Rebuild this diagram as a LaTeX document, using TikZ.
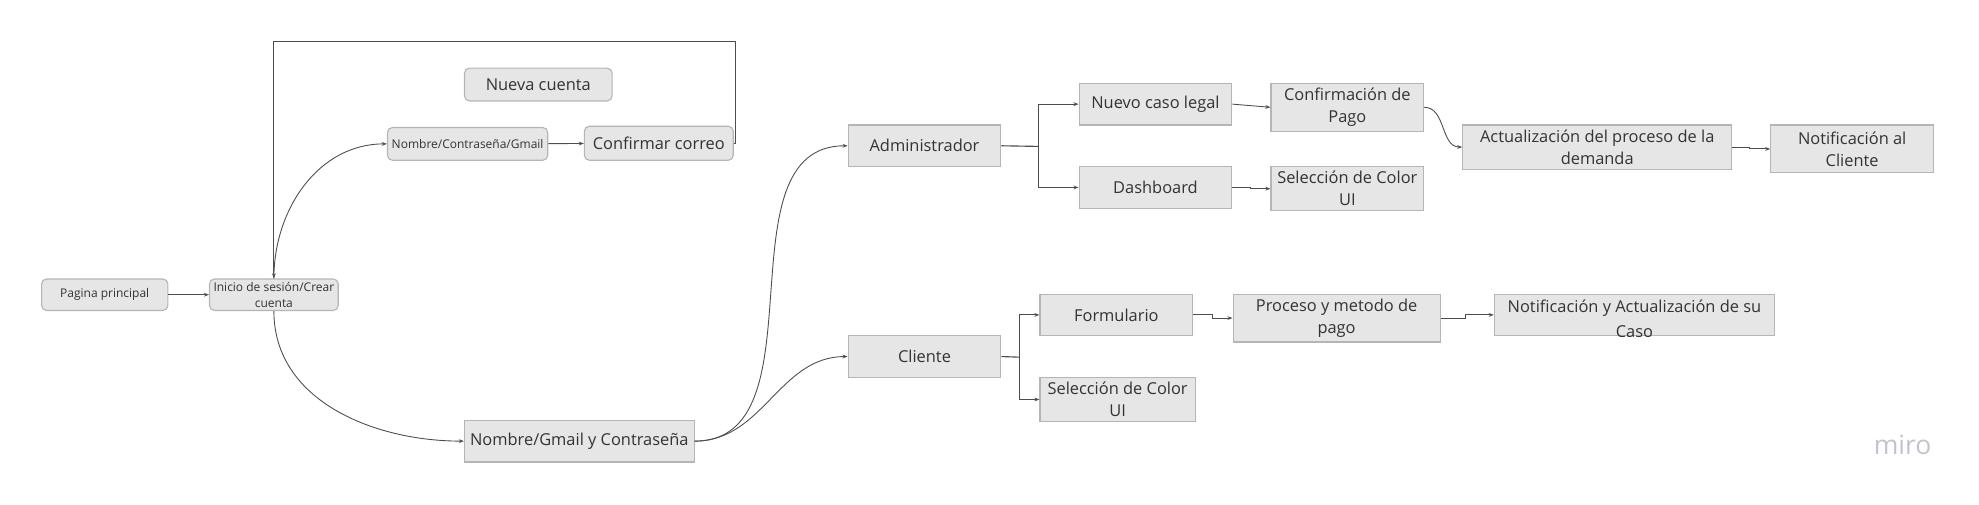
\documentclass[tikz,border=0pt]{standalone}
\usepackage{fontspec}
\setmainfont{Open Sans}
\usetikzlibrary{arrows.meta}
\definecolor{boxfill}{HTML}{E6E6E6}
\definecolor{boxline}{HTML}{B5B5B5}
\definecolor{linkcol}{HTML}{4D4D4D}
\definecolor{textcol}{HTML}{333333}
\definecolor{mirocol}{HTML}{C3C2CF}
\begin{document}
\begin{tikzpicture}[x=1pt,y=-1pt,
  box/.style={draw=boxline, fill=boxfill, line width=0.9pt, inner sep=0pt, align=center,
    text=textcol, font=\fontsize{13}{17.5}\selectfont},
  rbox/.style={box, rounded corners=4pt},
  small/.style={font=\fontsize{9.5}{12.5}\selectfont},
  conn/.style={draw=linkcol, line width=0.7pt, -{Stealth[length=4pt,width=3pt]}},
  plain/.style={draw=linkcol, line width=0.9pt}]
  \useasboundingbox (0,0) rectangle (1568,400);

  \node[rbox, small, minimum width=100, minimum height=25] (pag) at (83,233.5) {Pagina principal};
  \node[rbox, small, minimum width=102, minimum height=25] (ini) at (217,233.5) {Inicio de sesión/Crear\\cuenta};
  \node[rbox, small, minimum width=127, minimum height=26] (ncg) at (370.5,114) {Nombre/Contraseña/Gmail};
  \node[rbox, minimum width=118, minimum height=27] (conf) at (522,113.5) {Confirmar correo};
  \node[rbox, minimum width=117, minimum height=26] (nueva) at (426.5,67) {Nueva cuenta};
  \node[box, minimum width=182, minimum height=33] (ngc) at (459,349.5) {Nombre/Gmail y Contraseña};

  \node[box, minimum width=121, minimum height=33] (admin) at (732.5,115.5) {Administrador};
  \node[box, minimum width=121, minimum height=33] (cli) at (732.5,282.5) {Cliente};
  \node[box, minimum width=121, minimum height=33] (caso) at (915.5,82.5) {Nuevo caso legal};
  \node[box, minimum width=121, minimum height=33] (dash) at (915.5,148.5) {Dashboard};
  \node[box, minimum width=121, minimum height=38] (pago) at (1067.5,85) {Confirmación de\\Pago};
  \node[box, minimum width=121, minimum height=35] (colA) at (1067.5,149.5) {Selección de Color\\UI};
  \node[box, minimum width=213, minimum height=35] (actu) at (1265.5,116.5) {Actualización del proceso de la\\demanda};
  \node[box, minimum width=129, minimum height=38] (noti) at (1467.5,118) {Notificación al\\Cliente};
  \node[box, minimum width=121, minimum height=33] (form) at (884.5,249.5) {Formulario};
  \node[box, minimum width=123, minimum height=35] (colB) at (885.5,316.5) {Selección de Color\\UI};
  \node[box, minimum width=164, minimum height=38] (proc) at (1059,252) {Proceso y metodo de\\pago};
  \node[box, minimum width=222, minimum height=33] (notc) at (1295,249.5) {};
  \begin{scope}
    \clip (notc.south west) rectangle (notc.north east);
    \node[text=textcol, align=center, inner sep=0pt, font=\fontsize{13}{20}\selectfont,
      anchor=north] (notcT) at (1295,237.5) {Notificación y Actualización de su\\Caso};
  \end{scope}
  \node[text=mirocol, font=\fontsize{21}{21}\selectfont] (miro) at (1507.5,352.5) {miro};

  \coordinate (loop) at (583,33);
  \coordinate (forkA) at (823,116);
  \coordinate (forkC) at (808,283);

  \draw[conn] (pag) -- (ini);
  \draw[conn] (ini.north) to[out=90,in=180] (ncg.west);
  \draw[conn] (ncg) -- (conf);
  \draw[conn] (conf.east) -| (loop) -| (ini.north);
  \draw[conn] (ini.south) to[out=-90,in=180] (ngc.west);
  \draw[conn] (ngc.east) to[out=0,in=180] (admin.west);
  \draw[conn] (ngc.east) to[out=0,in=180] (cli.west);

  \draw[plain] (admin.east) -- (forkA);
  \draw[plain] (cli.east) -- (forkC);
  \foreach \n in {caso,dash} \draw[conn] (forkA) |- (\n.west);
  \foreach \n in {form,colB} \draw[conn] (forkC) |- (\n.west);

  \draw[conn] (caso.east) -- (pago.west);
  \draw[conn] (dash.east) -- +(14,0) |- (colA.west);
  \draw[conn] (pago.east) to[out=0,in=180] (actu.west);
  \draw[conn] (actu.east) -- +(14,0) |- (noti.west);
  \draw[conn] (form.east) -- +(15,0) |- (proc.west);
  \draw[conn] (proc.east) -- +(20,0) |- (notc.west);
\end{tikzpicture}
\end{document}
